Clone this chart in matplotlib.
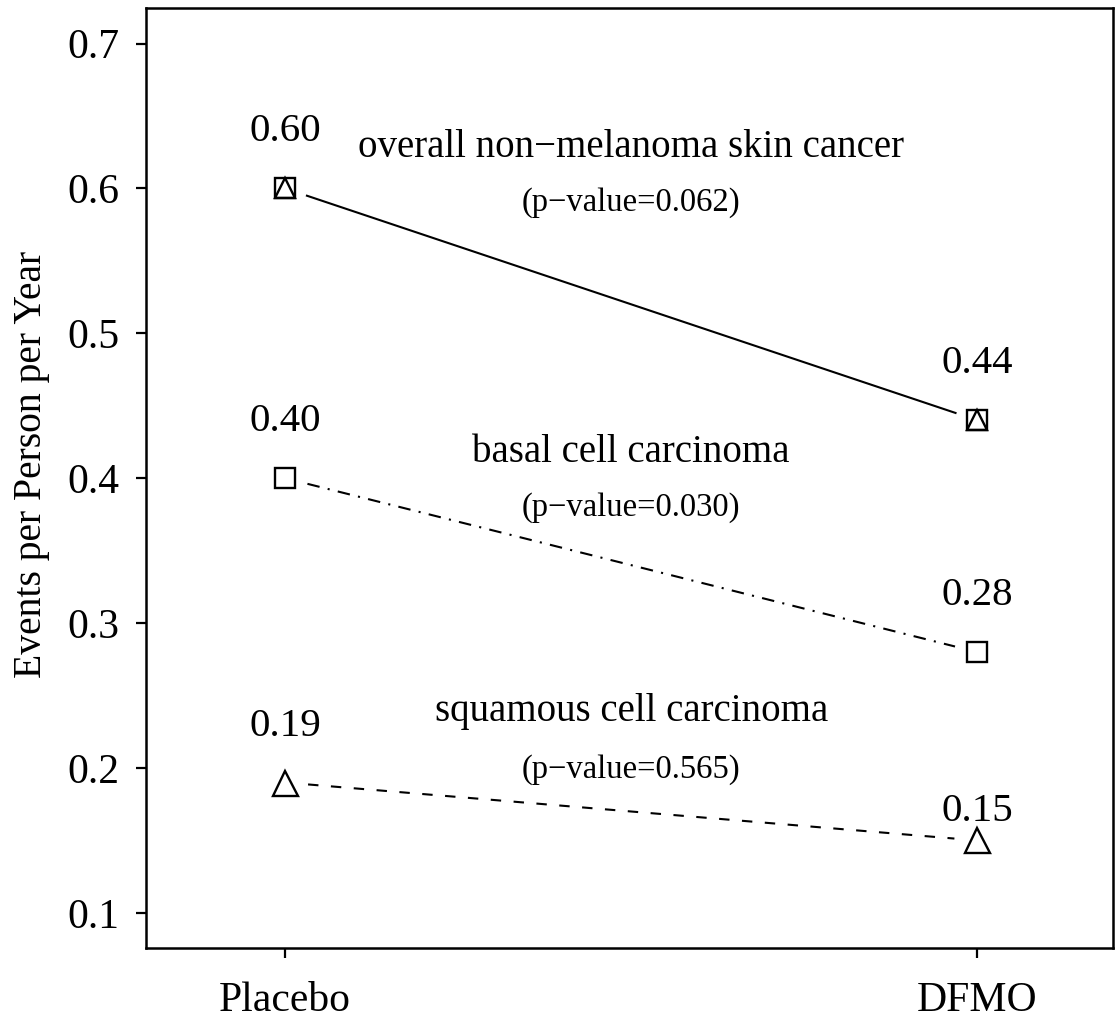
import numpy as np
import matplotlib
matplotlib.use("Agg")
import matplotlib.pyplot as plt

plt.rcParams["font.family"] = ["Liberation Serif", "DejaVu Serif"]

# ------------------------------------------------------------------
# data
# ------------------------------------------------------------------
groups = ["Placebo", "DFMO"]
overall = [0.60, 0.44]
basal = [0.40, 0.28]
squamous = [0.19, 0.15]
series_names = ["overall non\u2212melanoma skin cancer",
                "basal cell carcinoma",
                "squamous cell carcinoma"]
p_values = ["0.062", "0.030", "0.565"]
yticks = [0.1, 0.2, 0.3, 0.4, 0.5, 0.6, 0.7]

fig = plt.figure(figsize=(11.16, 10.18), dpi=100)
ax = fig.add_axes([146 / 1116, 1 - 948 / 1018, 967 / 1116, 940 / 1018])
ax.set_xlim(0.799, 2.196)
ax.set_ylim(0.0758, 0.7245)
x = np.arange(1, len(groups) + 1)


def gap_line(ax, xs, ys, gap_px=23, **kw):
    """R type='b' style: segment with a gap around each point."""
    p = ax.transData.transform(np.column_stack([xs, ys]))
    d = p[1] - p[0]
    u = d / np.hypot(*d)
    a, b = p[0] + u * gap_px, p[1] - u * gap_px
    q = ax.transData.inverted().transform(np.vstack([a, b]))
    ax.plot(q[:, 0], q[:, 1], color="black", **kw)


lw = 1.5
gap_line(ax, x, overall, lw=lw, linestyle="-")
gap_line(ax, x, basal, lw=lw, linestyle=(0, (6, 4, 1, 4)))
gap_line(ax, x, squamous, lw=lw, linestyle=(0, (5, 6)))

mk = dict(color="black", linestyle="none", markerfacecolor="none",
          markeredgewidth=1.7, clip_on=False)
ax.plot(x, overall, marker="s", markersize=14.5, **mk)
ax.plot(x, overall, marker="^", markersize=14.5, **mk)
ax.plot(x, basal, marker="s", markersize=14.5, **mk)
ax.plot(x, squamous, marker="^", markersize=18, **mk)

# value labels above points
offsets = {0.15: 0.02}
for vals in (overall, basal, squamous):
    for xi, v in zip(x, vals):
        ax.text(xi, v + offsets.get(v, 0.039), f"{v:.2f}", ha="center",
                va="center", fontsize=29.5)

# series names and p-values
name_y = [0.628, 0.418, 0.239]
p_y = [0.590, 0.380, 0.199]
for name, pv, ny, py in zip(series_names, p_values, name_y, p_y):
    ax.text(1.5, ny, name, ha="center", va="center", fontsize=28)
    ax.text(1.5, py, f"(p\u2212value={pv})", ha="center", va="center",
            fontsize=23.5)

ax.set_xticks(x)
ax.set_xticklabels(groups)
ax.set_yticks(yticks)
ax.set_yticklabels([f"{t:.1f}" for t in yticks])
ax.tick_params(axis="both", direction="out", length=7, width=1.6,
               labelsize=30)
ax.tick_params(axis="y", pad=12)
ax.tick_params(axis="x", pad=17)
ax.set_ylabel("Events per Person per Year", fontsize=28.5)
ax.yaxis.set_label_coords(-0.099, 0.514)
for s in ax.spines.values():
    s.set_linewidth(1.8)

fig.savefig("out.png", dpi=100)
